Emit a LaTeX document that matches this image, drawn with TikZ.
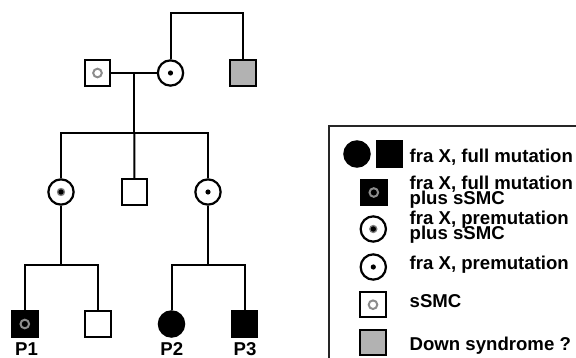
\documentclass[tikz,border=0pt]{standalone}
\usepackage{fontspec}
\setmainfont{Liberation Sans}

\newcommand{\keyfont}{\fontsize{18.6}{14.8}\selectfont\bfseries\lineskiplimit=-100pt}

\begin{document}
\begin{tikzpicture}[x=1pt, y=-1pt]

% Define styles
\tikzstyle{male} = [rectangle, draw=black, line width=2.2pt, minimum size=25.3pt, inner sep=0pt]
\tikzstyle{female} = [circle, draw=black, line width=2.2pt, minimum size=25.3pt, inner sep=0pt]
\tikzstyle{full} = [fill=black]
\tikzstyle{down} = [fill=black!30]
\tikzstyle{smc} = [path picture={\draw[black!45, line width=2pt] (path picture bounding box.center) circle (4.3pt);}]
\tikzstyle{premut} = [path picture={\fill (path picture bounding box.center) circle (2.6pt);}]
\tikzstyle{premutsmc} = [path picture={\fill[black!50] (path picture bounding box.center) circle (4.2pt); \fill (path picture bounding box.center) circle (2.7pt);}]
\tikzstyle{link} = [line width=2pt]
\tikzstyle{legbox} = [draw=black!85, line width=1.8pt]
\tikzstyle{legtext} = [font=\keyfont, inner sep=0pt, anchor=base west]
\tikzstyle{ptext} = [font=\keyfont, inner sep=0pt, anchor=base]

\useasboundingbox (0,0) rectangle (576,358);
\clip (0,0) rectangle (576,358);

% First generation
\node [male, smc] (grandpa) at (97.5,73) {};
\node [female, premut] (grandma) at (170.5,73) {};
\node [male, down] (uncle) at (243,73) {};

% Second generation
\node [female, premutsmc] (mom1) at (61,192) {};
\node [male] (son) at (134.5,192) {};
\node [female, premut] (mom2) at (208,192) {};

% Third generation
\node [male, full, smc] (p1) at (24.8,324) {};
\node [male] (bro) at (98,324) {};
\node [female, full] (p2) at (171.5,324) {};
\node [male, full] (p3) at (244.5,324) {};

% Patient labels
\node [ptext] (lab1) at (26.5,355) {P1};
\node [ptext] (lab2) at (171.8,355) {P2};
\node [ptext] (lab3) at (245,355) {P3};

% Line junctions
\coordinate (top) at (207,13);
\coordinate (mate) at (134.3,73);
\coordinate (sib1) at (134.3,133);
\coordinate (sib2) at (61,265);
\coordinate (sib3) at (208,265);

% Pedigree lines
\draw [link] (grandma.north) |- (top) -| (uncle.north);
\draw [link] (grandpa) -- (grandma);
\draw [link] (mate) -- (sib1);
\draw [link] (mom1.north) |- (sib1) -| (mom2.north);
\draw [link] (son) -- (sib1);
\draw [link] (mom1) -- (sib2);
\draw [link] (p1.north) |- (sib2) -| (bro.north);
\draw [link] (mom2) -- (sib3);
\draw [link] (p2.north) |- (sib3) -| (p3.north);

% Legend
\draw [legbox] (329,126) rectangle (600,380);

\node [female, full] (key1a) at (357,154) {};
\node [male, full] (key1b) at (389.5,154) {};
\node [male, full, smc] (key2) at (373.8,192.5) {};
\node [female, premutsmc] (key3) at (373.3,229) {};
\node [female, premut] (key4) at (373.3,267) {};
\node [male, smc] (key5) at (373,304.7) {};
\node [male, down] (key6) at (373,342.5) {};

\node [legtext] (txt1) at (409.5,162.7) {fra X, full mutation};
\node [legtext, align=left] (txt2) at (409.5,204.3) {fra X, full mutation\\plus sSMC};
\node [legtext, align=left] (txt3) at (409.5,239.3) {fra X, premutation\\plus sSMC};
\node [legtext] (txt4) at (409.5,270) {fra X, premutation};
\node [legtext] (txt5) at (409.5,308) {sSMC};
\node [legtext] (txt6) at (409.5,350) {Down syndrome ?};

\end{tikzpicture}
\end{document}
